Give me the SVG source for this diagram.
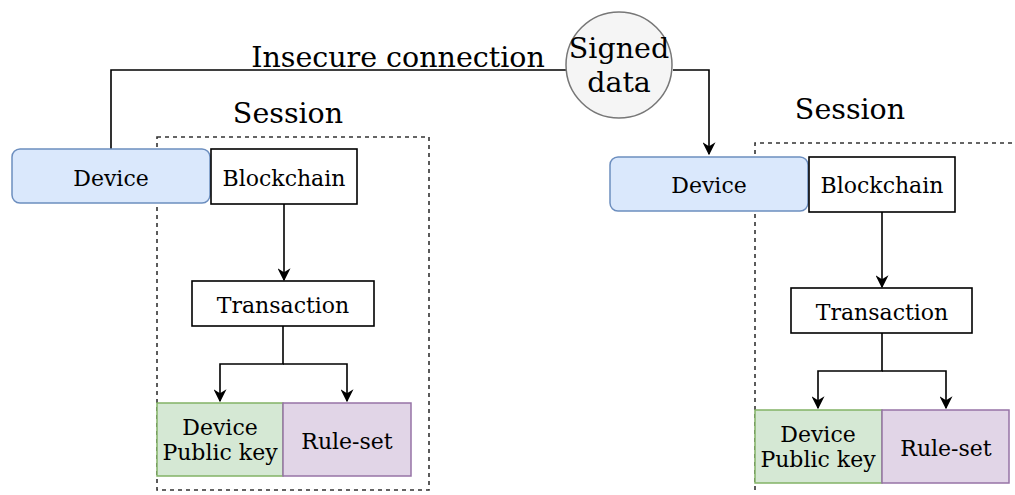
<svg xmlns="http://www.w3.org/2000/svg" width="1015" height="495" viewBox="0 0 1015 495">
  <defs>
    <marker id="arrow" viewBox="0 0 10 10" refX="9" refY="5" markerWidth="13" markerHeight="13" markerUnits="userSpaceOnUse" orient="auto">
      <path d="M0,0 L10,5 L0,10 L3,5 Z" fill="#000"/>
    </marker>
    <style>
      text { font-family: "DejaVu Serif", "Liberation Serif", serif; fill: #000; text-anchor: middle; }
      .lbl { font-size: 22px; }
      .big { font-size: 28.5px; }
      .edge { fill: none; stroke: #000; stroke-width: 1.6; }
      .session { fill: none; stroke: #333; stroke-width: 1.6; stroke-dasharray: 4 4; }
      .device { fill: #dae8fc; stroke: #6c8ebf; stroke-width: 1.5; }
      .plain { fill: #fff; stroke: #000; stroke-width: 1.6; }
      .key { fill: #d5e8d4; stroke: #82b366; stroke-width: 1.5; }
      .rules { fill: #e1d5e7; stroke: #9673a6; stroke-width: 1.5; }
      .signed { fill: #f5f5f5; stroke: #777; stroke-width: 1.5; }
    </style>
  </defs>
  <rect width="1015" height="495" fill="#fff"/>

  <!-- session frames -->
  <g id="session-left">
    <rect class="session" x="157" y="137" width="272" height="353"/>
    <text class="big" x="288" y="123">Session</text>
  </g>
  <g id="session-right">
    <path class="session" d="M755,490 L755,143 L1015,143"/>
    <text class="big" x="850" y="119">Session</text>
  </g>

  <!-- connectors -->
  <g id="connectors">
    <path class="edge" d="M111,150 L111,70 L566,70"/>
    <text class="big" x="398" y="67">Insecure connection</text>
    <path class="edge" d="M673,70 L709,70 L709,154" marker-end="url(#arrow)"/>
    <path class="edge" d="M284,204 L284,280" marker-end="url(#arrow)"/>
    <path class="edge" d="M283,326 L283,364 L220,364 L220,401" marker-end="url(#arrow)"/>
    <path class="edge" d="M283,364 L347,364 L347,401" marker-end="url(#arrow)"/>
    <path class="edge" d="M882,212 L882,287" marker-end="url(#arrow)"/>
    <path class="edge" d="M882,333 L882,371 L818,371 L818,408" marker-end="url(#arrow)"/>
    <path class="edge" d="M882,371 L946,371 L946,408" marker-end="url(#arrow)"/>
  </g>

  <!-- nodes, left -->
  <g id="device-left">
    <rect class="device" x="12" y="149" width="198" height="54" rx="8"/>
    <text class="lbl" x="111" y="186">Device</text>
  </g>
  <g id="blockchain-left">
    <rect class="plain" x="211" y="149" width="146" height="55"/>
    <text class="lbl" x="284" y="186">Blockchain</text>
  </g>
  <g id="transaction-left">
    <rect class="plain" x="192" y="281" width="182" height="45"/>
    <text class="lbl" x="283" y="313">Transaction</text>
  </g>
  <g id="pubkey-left">
    <rect class="key" x="157" y="403" width="126" height="73"/>
    <text class="lbl" x="220" y="435">Device</text>
    <text class="lbl" x="220" y="460">Public key</text>
  </g>
  <g id="ruleset-left">
    <rect class="rules" x="283" y="403" width="128" height="73"/>
    <text class="lbl" x="347" y="449">Rule-set</text>
  </g>

  <!-- signed data bubble -->
  <g id="signed-data">
    <circle class="signed" cx="619" cy="65" r="53"/>
    <text class="big" x="619" y="58">Signed</text>
    <text class="big" x="619" y="92">data</text>
  </g>

  <!-- nodes, right -->
  <g id="device-right">
    <rect class="device" x="610" y="157" width="198" height="54" rx="8"/>
    <text class="lbl" x="709" y="193">Device</text>
  </g>
  <g id="blockchain-right">
    <rect class="plain" x="809" y="157" width="146" height="55"/>
    <text class="lbl" x="882" y="193">Blockchain</text>
  </g>
  <g id="transaction-right">
    <rect class="plain" x="791" y="288" width="181" height="45"/>
    <text class="lbl" x="882" y="320">Transaction</text>
  </g>
  <g id="pubkey-right">
    <rect class="key" x="755" y="410" width="127" height="73"/>
    <text class="lbl" x="818" y="442">Device</text>
    <text class="lbl" x="818" y="467">Public key</text>
  </g>
  <g id="ruleset-right">
    <rect class="rules" x="882" y="410" width="127" height="73"/>
    <text class="lbl" x="946" y="456">Rule-set</text>
  </g>
</svg>
